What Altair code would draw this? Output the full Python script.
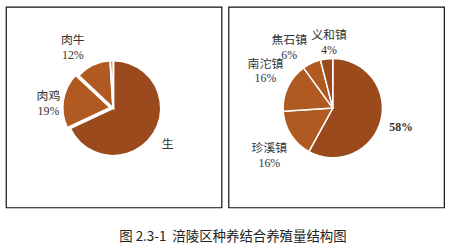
import altair as alt
import pandas as pd

# Left pie data
left_cats = ["生", "肉鸡", "肉牛", "其他"]
left_vals = [68, 19, 12, 1]
left_labels = ["生", "肉鸡\n19%", "肉牛\n12%", ""]

# Right pie data
right_cats = ["58%", "珍溪镇", "南沱镇", "焦石镇", "义和镇"]
right_vals = [58, 16, 16, 6, 4]
right_labels = ["58%", "珍溪镇\n16%", "南沱镇\n16%", "焦石镇\n6%", "义和镇\n4%"]

caption = "图 2.3-1\u00a0\u00a0涪陵区种养结合养殖量结构图"

DARK = "#9a4a1c"
MID = "#b05a22"
LABEL_FONT = "Liberation Serif, Noto Sans CJK SC"
W, H = 217, 202
HALF_LINE = -7.5


def make_df(cats, vals, labels):
    return pd.DataFrame({"cat": cats, "val": vals, "label": labels,
                         "idx": list(range(len(cats)))})


def pie(df, colors, radius, stroke_w, cx, cy, explode, label_style):
    base = alt.Chart(df).encode(
        theta=alt.Theta("val:Q", stack=True),
        order=alt.Order("idx:Q"),
    )
    color = alt.Color("cat:N", scale=alt.Scale(domain=list(df["cat"]), range=colors), legend=None)
    pos = dict(x=alt.value(cx), y=alt.value(cy))
    layers = []
    if explode:
        name, ox, oy = explode
        layers.append(base.mark_arc(radius=radius, stroke="white", strokeWidth=stroke_w).encode(
            color=color,
            opacity=alt.condition(alt.datum.cat == name, alt.value(0), alt.value(1)), **pos))
        layers.append(base.mark_arc(radius=radius, stroke="white", strokeWidth=stroke_w,
                                    xOffset=ox, yOffset=oy).encode(
            color=color,
            opacity=alt.condition(alt.datum.cat == name, alt.value(1), alt.value(0)), **pos))
    else:
        layers.append(base.mark_arc(radius=radius, stroke="white", strokeWidth=stroke_w).encode(
            color=color, **pos))
    for name, (r, dx, dy, bold, two_lines) in label_style.items():
        layers.append(base.mark_text(radius=r, dx=dx, dy=dy + (HALF_LINE if two_lines else 0),
                                     lineBreak="\n", lineHeight=15,
                                     font=LABEL_FONT, fontSize=12, color="#333333",
                                     fontWeight="bold" if bold else "normal",
                                     align="center", baseline="middle").encode(
            text="label:N",
            opacity=alt.condition(alt.datum.cat == name, alt.value(1), alt.value(0)), **pos))
    return alt.layer(*layers).properties(width=W, height=H)


left = pie(make_df(left_cats, left_vals, left_labels),
           [DARK, MID, MID, MID], 48, 2, 108, 102, ("肉鸡", -3, -0.5),
           {"生": (65, 0, 1, False, False), "肉鸡": (65, -1, 6, False, True),
            "肉牛": (65, -13, -2, False, True)})

right = pie(make_df(right_cats, right_vals, right_labels),
            [DARK, MID, MID, MID, MID], 50, 1.5, 105, 102, None,
            {"58%": (71, 0, 1, True, False), "珍溪镇": (78, 2, 6, False, True),
             "南沱镇": (76, 1, -5, False, True),
             "焦石镇": (70, -14, 2, False, True), "义和镇": (66, 4.5, -0.5, False, True)})

chart = alt.hconcat(left, right, spacing=5).properties(
    title=alt.TitleParams(caption, orient="bottom", anchor="middle", fontSize=13.5,
                          font="Noto Sans CJK SC", fontWeight="normal", color="#222222",
                          offset=22, dx=8),
    padding={"left": 5, "top": 5, "right": 5, "bottom": 2},
    background="white",
).configure_view(stroke="#111111", strokeWidth=1.2)

chart.save("out.html", embed_options={"renderer": "svg", "actions": False})
